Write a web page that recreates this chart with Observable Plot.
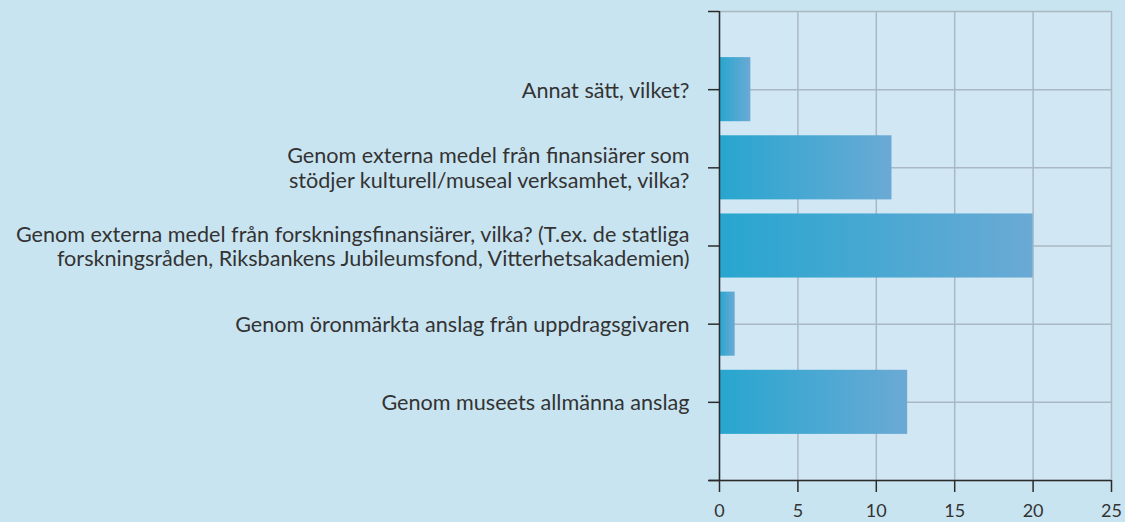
<!DOCTYPE html>
<html>
<head>
<meta charset="utf-8">
<script src="https://cdn.jsdelivr.net/npm/d3@7"></script>
<script src="https://cdn.jsdelivr.net/npm/@observablehq/plot@0.6"></script>
<style>
  html, body { margin: 0; padding: 0; background: #c9e4f1; }
  #chart svg { display: block; }
</style>
</head>
<body>
<div id="chart"></div>
<script>
const categories = [
  "Annat sätt, vilket?",
  "Genom externa medel från finansiärer som\nstödjer kulturell/museal verksamhet, vilka?",
  "Genom externa medel från forskningsfinansiärer, vilka? (T.ex. de statliga\nforskningsråden, Riksbankens Jubileumsfond, Vitterhetsakademien)",
  "Genom öronmärkta anslag från uppdragsgivaren",
  "Genom museets allmänna anslag"
];
const values = [2, 11, 20, 1, 12];
const xTicks = [0, 5, 10, 15, 20, 25];

const data = categories.map((c, i) => ({label: c, value: values[i], pos: i + 1}));
const yTicks = d3.range(categories.length + 2);

const dark = "#2b2b2b";
const grid = "#aab8c3";

const chart = Plot.plot({
  width: 1125,
  height: 522,
  marginLeft: 719,
  marginRight: 14,
  marginTop: 11,
  marginBottom: 42,
  style: {background: "#c9e4f1", fontFamily: "Lato, 'Noto Sans', sans-serif", color: "#333"},
  x: {domain: [0, 25]},
  y: {domain: [0, categories.length + 1], reverse: true},
  marks: [
    Plot.frame({fill: "#d1e7f3", stroke: null}),
    Plot.ruleX(xTicks, {x: d => d, stroke: grid, strokeWidth: 1.5}),
    Plot.ruleY(yTicks, {y: d => d, stroke: grid, strokeWidth: 1.5}),
    Plot.rectX(data, {
      x1: 0, x2: "value",
      y1: d => d.pos - 0.41, y2: d => d.pos + 0.41,
      fill: "url(#barGrad)"
    }),
    Plot.ruleX([0], {stroke: dark, strokeWidth: 1.5}),
    Plot.ruleY([categories.length + 1], {stroke: dark, strokeWidth: 1.5, insetLeft: -10}),
    Plot.axisY({ticks: yTicks, tickFormat: () => "", tickSize: 11, stroke: dark, strokeWidth: 1.5, label: null}),
    Plot.axisX({ticks: xTicks, tickSize: 12, tickPadding: 12, fontSize: 18, fill: "#333", stroke: dark, strokeWidth: 1.5, label: null}),
    Plot.text(data, {
      x: 0, y: "pos", text: "label",
      textAnchor: "end", dx: -30, fontSize: 21.6, lineHeight: 1.15, fill: "#333"
    })
  ]
});

d3.select(chart).insert("defs", ":first-child").html(
  '<linearGradient id="barGrad" x1="0" x2="1" y1="0" y2="0">' +
  '<stop offset="0" stop-color="#27a6cf"/><stop offset="1" stop-color="#6aaad5"/>' +
  '</linearGradient>'
);

document.getElementById("chart").appendChild(chart);
</script>
</body>
</html>
